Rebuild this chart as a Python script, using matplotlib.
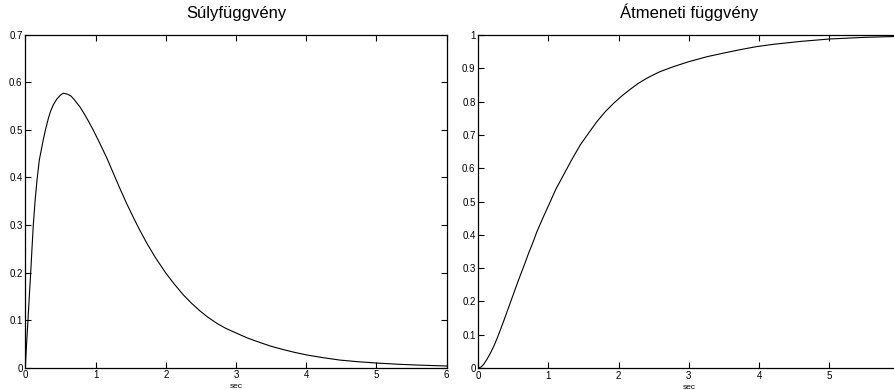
import numpy as np
import matplotlib
matplotlib.use('Agg')
import matplotlib.pyplot as plt

plt.rcParams['font.family'] = ['Liberation Sans', 'DejaVu Sans']

# Súlyfüggvény (impulse response)
t_imp = [0, 0.02, 0.038, 0.057, 0.077, 0.095, 0.114, 0.14, 0.167, 0.2, 0.257, 0.29, 0.328,
         0.36, 0.40, 0.45, 0.5, 0.541, 0.6, 0.65, 0.7, 0.779, 0.85, 0.9, 0.969, 1.06,
         1.16, 1.25, 1.349, 1.44, 1.538, 1.63, 1.729, 1.85, 2.0, 2.12, 2.25, 2.37, 2.49,
         2.6, 2.73, 2.85, 3.0, 3.17, 3.34, 3.5, 3.675, 3.84, 4.0, 4.24, 4.48, 4.74, 5.0,
         5.3, 5.57, 5.8, 6.0]
h_imp = [0, 0.055, 0.10, 0.15, 0.20, 0.25, 0.30, 0.352, 0.395, 0.437, 0.48, 0.502, 0.524,
         0.539, 0.553, 0.565, 0.573, 0.577, 0.575, 0.571, 0.563, 0.548, 0.531, 0.518, 0.499, 0.472,
         0.441, 0.41, 0.376, 0.346, 0.316, 0.289, 0.262, 0.232, 0.199, 0.176, 0.153, 0.135, 0.119,
         0.106, 0.093, 0.083, 0.073, 0.062, 0.053, 0.045, 0.038, 0.032, 0.027, 0.021, 0.016, 0.0125,
         0.0098, 0.0073, 0.0056, 0.0045, 0.0036]

# Átmeneti függvény (step response)
t_step = [0, 0.04, 0.076, 0.12, 0.171, 0.22, 0.266, 0.31, 0.36, 0.42, 0.48, 0.54, 0.598,
          0.66, 0.717, 0.78, 0.836, 0.94, 1.016, 1.1, 1.215, 1.33, 1.453, 1.57, 1.69, 1.81,
          1.928, 2.05, 2.165, 2.28, 2.40, 2.5, 2.59, 2.78, 3.0, 3.26, 3.5, 3.73, 3.96, 4.2,
          4.6, 5.0, 5.5, 6.0]
s_step = [0, 0.003, 0.011, 0.025, 0.044, 0.065, 0.088, 0.112, 0.14, 0.175, 0.21, 0.245, 0.278,
          0.312, 0.345, 0.378, 0.41, 0.46, 0.495, 0.535, 0.58, 0.625, 0.67, 0.705, 0.74, 0.77,
          0.795, 0.818, 0.837, 0.855, 0.870, 0.881, 0.89, 0.905, 0.92, 0.935, 0.946, 0.956, 0.965,
          0.972, 0.981, 0.988, 0.993, 0.996]

x_ticks = [0, 1, 2, 3, 4, 5, 6]
y_ticks_imp = [0, 0.1, 0.2, 0.3, 0.4, 0.5, 0.6, 0.7]
y_labels_imp = ['0', '0.1', '0.2', '0.3', '0.4', '0.5', '0.6', '0.7']
y_ticks_step = [0, 0.1, 0.2, 0.3, 0.4, 0.5, 0.6, 0.7, 0.8, 0.9, 1]
y_labels_step = ['0', '0.1', '0.2', '0.3', '0.4', '0.5', '0.6', '0.7', '0.8', '0.9', '1']

fig = plt.figure(figsize=(8.94, 3.9), dpi=100)
ax1 = fig.add_axes([0.0283, 0.0572, 0.4714, 0.8538])
ax2 = fig.add_axes([0.5350, 0.0564, 0.4711, 0.8538])


def style(ax, yt, yl, ymax, title, xl):
    ax.set_xlim(0, 6)
    ax.set_ylim(0, ymax)
    ax.set_xticks(x_ticks)
    ax.set_xticklabels(xl)
    ax.set_yticks(yt)
    ax.set_yticklabels(yl)
    ax.tick_params(direction='in', top=True, right=True, length=4, width=0.8,
                   labelsize=7, pad=2)
    for sp in ax.spines.values():
        sp.set_linewidth(0.9)
    ax.set_title(title, fontsize=12, pad=12)
    ax.set_xlabel('sec', fontsize=6, labelpad=2)


ax1.plot(t_imp, h_imp, color='k', lw=0.8)
style(ax1, y_ticks_imp, y_labels_imp, 0.7, 'Súlyfüggvény',
      [str(v) for v in x_ticks])

ax2.plot(t_step, s_step, color='k', lw=0.8)
# the reference image is cut off before the last tick label of the right panel
style(ax2, y_ticks_step, y_labels_step, 1, 'Átmeneti függvény',
      [str(v) for v in x_ticks[:-1]] + [''])
ax2.tick_params(right=False)

fig.savefig('out.png', dpi=100)
